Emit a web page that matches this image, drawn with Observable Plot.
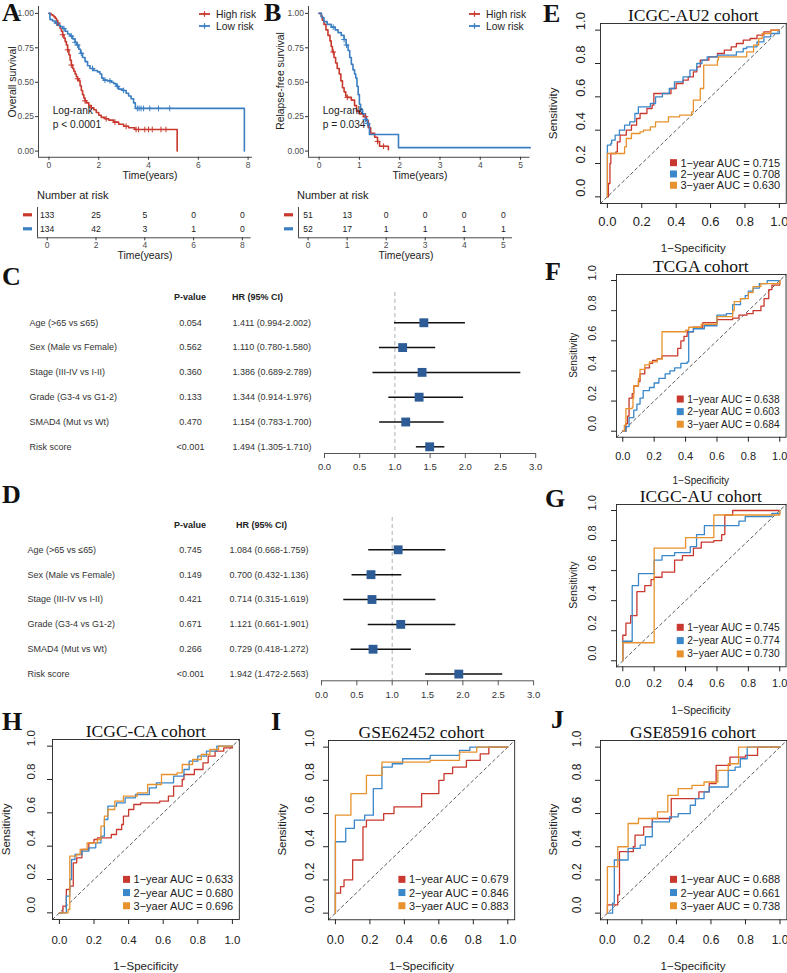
<!DOCTYPE html>
<html><head><meta charset="utf-8">
<script src="https://cdn.jsdelivr.net/npm/d3@7"></script>
<script src="https://cdn.jsdelivr.net/npm/@observablehq/plot@0.6"></script>
<style>
body{margin:0;background:#fff;}
#fig{position:relative;width:787px;height:973px;overflow:hidden;background:#fff;}
.panel{position:absolute;}
.panel svg{max-width:none;overflow:visible;}
#overlay{position:absolute;left:0;top:0;z-index:10;pointer-events:none;}
</style></head><body><div id="fig"></div><script>
// ---------------- data ----------------
const kmGroups = ["High risk", "Low risk"];
const kmColors = ["#c9382d", "#3b7ec2"];
const survTicks = [0, 0.25, 0.5, 0.75, 1];
const osTicks = [0, 2, 4, 6, 8];
const rfsTicks = [0, 1, 2, 3, 4, 5];
// Overall survival (A): [time (years), survival]
const osHigh = [[0,1],[0.08,0.99],[0.15,0.985],[0.2,0.975],[0.25,0.965],[0.3,0.95],[0.35,0.93],[0.4,0.91],[0.45,0.89],[0.5,0.87],[0.55,0.845],[0.6,0.82],[0.65,0.795],[0.7,0.77],[0.75,0.735],[0.8,0.70],[0.85,0.66],[0.9,0.625],[0.95,0.60],[1.0,0.58],[1.05,0.56],[1.1,0.54],[1.15,0.525],[1.2,0.51],[1.25,0.475],[1.3,0.44],[1.35,0.41],[1.4,0.385],[1.45,0.365],[1.5,0.35],[1.6,0.33],[1.7,0.315],[1.8,0.30],[1.9,0.28],[2.0,0.26],[2.1,0.245],[2.25,0.235],[2.4,0.225],[2.6,0.21],[2.8,0.195],[3.0,0.18],[3.2,0.17],[3.45,0.157],[5.15,0.157],[5.15,0]];
const osLow = [[0,1],[0.04,0.955],[0.15,0.945],[0.25,0.93],[0.35,0.915],[0.45,0.905],[0.55,0.89],[0.65,0.87],[0.75,0.85],[0.85,0.835],[0.95,0.815],[1.05,0.79],[1.12,0.77],[1.2,0.74],[1.27,0.71],[1.35,0.68],[1.45,0.65],[1.55,0.62],[1.65,0.60],[1.8,0.585],[1.95,0.575],[2.05,0.56],[2.12,0.53],[2.2,0.515],[2.35,0.51],[2.5,0.50],[2.6,0.49],[2.7,0.47],[2.8,0.45],[2.95,0.44],[3.1,0.42],[3.2,0.40],[3.3,0.38],[3.4,0.35],[3.47,0.31],[7.85,0.31],[7.85,0]];
const osCensorHigh = [0.35,0.55,0.75,0.9,1.15,1.45,1.7,2.3,2.65,3.1,3.5,3.6,3.85,4.0,4.15,4.5,4.7];
const osCensorLow = [0.3,0.6,0.9,1.05,1.15,1.3,1.75,2.25,2.45,2.75,3.0,3.55,3.62,3.7,3.8,4.05,4.4,4.85];
// Relapse-free survival (B)
const rfsHigh = [[0,1],[0.05,0.98],[0.08,0.95],[0.12,0.92],[0.17,0.88],[0.22,0.84],[0.27,0.80],[0.3,0.76],[0.33,0.72],[0.37,0.68],[0.41,0.64],[0.45,0.60],[0.5,0.56],[0.54,0.51],[0.58,0.46],[0.62,0.43],[0.66,0.40],[0.7,0.39],[0.8,0.37],[0.88,0.33],[0.93,0.29],[1.0,0.27],[1.1,0.25],[1.17,0.22],[1.22,0.17],[1.28,0.13],[1.38,0.10],[1.45,0.07],[1.5,0.035],[1.72,0.035],[1.72,0.01]];
const rfsLow = [[0,1],[0.06,0.97],[0.12,0.94],[0.2,0.92],[0.3,0.90],[0.4,0.88],[0.47,0.86],[0.55,0.84],[0.62,0.81],[0.67,0.77],[0.72,0.73],[0.76,0.68],[0.8,0.63],[0.84,0.59],[0.88,0.56],[0.91,0.53],[0.94,0.47],[0.97,0.41],[1.0,0.34],[1.03,0.30],[1.08,0.27],[1.15,0.23],[1.2,0.20],[1.25,0.12],[1.92,0.12],[1.97,0.025],[5.24,0.025]];
const rfsCensorHigh = [0.35,0.7,1.15,1.45,1.6];
const rfsCensorLow = [0.35,0.62,0.68,1.15,1.2];
// Number at risk
const osRisk = [[133,25,5,0,0],[134,42,3,1,0]];
const rfsRisk = [[51,13,0,0,0,0],[52,17,1,1,1,1]];

// Forest plots (C: univariate, D: multivariate)
const forestVars = ["Age (>65 vs \u226465)","Sex (Male vs Female)","Stage (III-IV vs I-II)","Grade (G3-4 vs G1-2)","SMAD4 (Mut vs Wt)","Risk score"];
const uniP = ["0.054","0.562","0.360","0.133","0.470","<0.001"];
const uniHR = [1.411,1.110,1.386,1.344,1.154,1.494];
const uniLo = [0.994,0.780,0.689,0.914,0.783,1.305];
const uniHi = [2.002,1.580,2.789,1.976,1.700,1.710];
const multiP = ["0.745","0.149","0.421","0.671","0.266","<0.001"];
const multiHR = [1.084,0.700,0.714,1.121,0.729,1.942];
const multiLo = [0.668,0.432,0.315,0.661,0.418,1.472];
const multiHi = [1.759,1.136,1.619,1.901,1.272,2.563];
const hrTicks = [0,0.5,1,1.5,2,2.5,3];

// ROC curves: [1-specificity, sensitivity]
const rocYears = ["1\u2212year","2\u2212year","3\u2212yaer"];
const rocColors = ["#c9382e","#3a87c9","#e8922e"];
const rocTicks = [0,0.2,0.4,0.6,0.8,1];
const rocDomain = [-0.04, 1.04];
const aucE = [0.715,0.708,0.630];
const rocE1 = [[0,0],[0.006,0.08],[0.015,0.2],[0.02,0.26],[0.05,0.27],[0.058,0.33],[0.074,0.37],[0.11,0.40],[0.14,0.43],[0.17,0.47],[0.19,0.50],[0.23,0.53],[0.26,0.55],[0.27,0.62],[0.335,0.62],[0.37,0.65],[0.40,0.68],[0.44,0.70],[0.47,0.72],[0.50,0.75],[0.52,0.78],[0.54,0.82],[0.59,0.84],[0.64,0.86],[0.68,0.88],[0.72,0.90],[0.75,0.92],[0.79,0.94],[0.83,0.95],[0.87,0.97],[0.91,0.99],[0.95,1.0],[1,1]];
const rocE2 = [[0,0],[0,0.31],[0.02,0.32],[0.025,0.34],[0.045,0.37],[0.07,0.40],[0.10,0.43],[0.13,0.45],[0.16,0.50],[0.18,0.54],[0.23,0.54],[0.25,0.56],[0.28,0.60],[0.32,0.62],[0.36,0.65],[0.39,0.69],[0.44,0.72],[0.48,0.76],[0.52,0.80],[0.55,0.82],[0.58,0.84],[0.64,0.85],[0.75,0.87],[0.79,0.89],[0.81,0.90],[0.87,0.93],[0.91,0.96],[0.95,0.98],[1,1]];
const rocE3 = [[0,0],[0,0.26],[0.10,0.30],[0.11,0.35],[0.14,0.38],[0.19,0.39],[0.21,0.40],[0.25,0.42],[0.28,0.45],[0.355,0.48],[0.42,0.49],[0.49,0.51],[0.50,0.58],[0.54,0.65],[0.56,0.79],[0.64,0.82],[0.645,0.84],[0.81,0.87],[0.85,0.91],[0.88,0.95],[0.90,0.98],[0.95,1.0],[1,1]];
const aucF = [0.638,0.603,0.684];
const rocF1 = [[0,0],[0.02,0.05],[0.03,0.10],[0.04,0.22],[0.06,0.25],[0.07,0.30],[0.10,0.33],[0.11,0.38],[0.14,0.42],[0.17,0.45],[0.19,0.47],[0.22,0.48],[0.25,0.50],[0.35,0.55],[0.37,0.60],[0.39,0.63],[0.41,0.66],[0.45,0.69],[0.51,0.72],[0.60,0.74],[0.70,0.75],[0.74,0.77],[0.79,0.78],[0.83,0.80],[0.88,0.83],[0.90,0.88],[0.93,0.94],[0.95,0.97],[1,1]];
const rocF2 = [[0,0],[0.02,0.03],[0.04,0.09],[0.07,0.14],[0.09,0.18],[0.11,0.22],[0.13,0.27],[0.17,0.29],[0.20,0.32],[0.23,0.35],[0.27,0.38],[0.30,0.40],[0.33,0.42],[0.37,0.45],[0.41,0.46],[0.42,0.66],[0.45,0.68],[0.52,0.70],[0.60,0.77],[0.66,0.78],[0.70,0.84],[0.75,0.88],[0.78,0.90],[0.80,0.93],[0.83,0.95],[0.87,0.98],[0.92,1.0],[1,1]];
const rocF3 = [[0,0],[0.01,0.04],[0.02,0.15],[0.06,0.16],[0.065,0.22],[0.07,0.30],[0.10,0.35],[0.11,0.41],[0.14,0.44],[0.17,0.46],[0.22,0.48],[0.25,0.66],[0.40,0.67],[0.42,0.69],[0.50,0.71],[0.60,0.76],[0.70,0.80],[0.71,0.86],[0.75,0.88],[0.80,0.92],[0.83,0.96],[0.88,0.98],[1,1]];
const aucG = [0.745,0.774,0.730];
const rocG1 = [[0,0],[0,0.17],[0.02,0.25],[0.05,0.30],[0.09,0.46],[0.14,0.50],[0.18,0.54],[0.20,0.556],[0.25,0.59],[0.33,0.67],[0.38,0.70],[0.45,0.75],[0.50,0.79],[0.58,0.80],[0.63,0.84],[0.65,0.97],[0.70,1.0],[1,1]];
const rocG2 = [[0,0],[0,0.13],[0.06,0.50],[0.10,0.58],[0.20,0.67],[0.25,0.70],[0.33,0.72],[0.43,0.76],[0.47,0.84],[0.52,0.90],[0.74,0.93],[0.78,0.96],[0.95,0.98],[1,1]];
const rocG3 = [[0,0],[0,0.12],[0.20,0.75],[0.40,0.82],[0.58,0.97],[1,1]];
const aucH = [0.633,0.680,0.696];
const rocH1 = [[0,0],[0.02,0.04],[0.04,0.14],[0.06,0.16],[0.08,0.30],[0.10,0.33],[0.13,0.38],[0.17,0.42],[0.20,0.44],[0.22,0.45],[0.30,0.47],[0.33,0.50],[0.36,0.53],[0.37,0.58],[0.40,0.62],[0.43,0.65],[0.47,0.66],[0.58,0.67],[0.63,0.70],[0.66,0.76],[0.71,0.80],[0.72,0.83],[0.78,0.86],[0.83,0.90],[0.86,0.94],[0.90,0.97],[0.95,0.99],[1,1]];
const rocH2 = [[0,0],[0.04,0.10],[0.06,0.20],[0.07,0.32],[0.09,0.35],[0.13,0.37],[0.17,0.39],[0.21,0.42],[0.24,0.46],[0.26,0.56],[0.28,0.64],[0.33,0.66],[0.38,0.69],[0.44,0.71],[0.52,0.75],[0.56,0.78],[0.66,0.82],[0.72,0.86],[0.75,0.91],[0.80,0.94],[0.85,0.97],[0.91,1.0],[1,1]];
const rocH3 = [[0,0],[0.05,0.02],[0.06,0.34],[0.10,0.35],[0.12,0.38],[0.16,0.42],[0.22,0.44],[0.24,0.52],[0.26,0.58],[0.28,0.62],[0.32,0.67],[0.37,0.70],[0.45,0.72],[0.51,0.77],[0.59,0.83],[0.68,0.84],[0.71,0.89],[0.77,0.92],[0.82,0.95],[0.87,0.98],[0.92,1.0],[1,1]];
const aucI = [0.679,0.846,0.883];
const rocI1 = [[0,0],[0,0.12],[0.03,0.16],[0.05,0.20],[0.10,0.32],[0.16,0.52],[0.18,0.56],[0.28,0.60],[0.34,0.64],[0.50,0.72],[0.60,0.80],[0.63,0.84],[0.68,0.88],[0.76,0.92],[0.84,0.96],[0.89,1.0],[1,1]];
const rocI2 = [[0,0],[0,0.43],[0.06,0.51],[0.11,0.56],[0.17,0.59],[0.22,0.75],[0.27,0.88],[0.33,0.90],[0.39,0.93],[0.55,0.95],[0.72,0.98],[0.78,1.0],[1,1]];
const rocI3 = [[0,0],[0,0.59],[0.09,0.72],[0.18,0.83],[0.27,0.91],[0.55,0.92],[0.72,0.97],[0.82,1.0],[1,1]];
const aucJ = [0.688,0.661,0.738];
const rocJ1 = [[0,0],[0,0.05],[0.06,0.11],[0.07,0.37],[0.15,0.40],[0.16,0.47],[0.21,0.52],[0.26,0.57],[0.37,0.69],[0.53,0.73],[0.59,0.78],[0.63,0.89],[0.71,0.94],[0.80,0.95],[0.87,1.0],[1,1]];
const rocJ2 = [[0,0],[0.03,0.06],[0.04,0.32],[0.12,0.39],[0.19,0.41],[0.22,0.46],[0.26,0.55],[0.36,0.58],[0.41,0.60],[0.48,0.65],[0.51,0.69],[0.56,0.73],[0.59,0.76],[0.70,0.86],[0.74,0.88],[0.77,0.93],[0.81,1.0],[1,1]];
const rocJ3 = [[0,0],[0,0.28],[0.06,0.40],[0.12,0.54],[0.18,0.57],[0.29,0.61],[0.35,0.71],[0.41,0.75],[0.49,0.77],[0.56,0.79],[0.64,0.86],[0.70,0.90],[0.76,1.0],[1,1]];

// ---------------- helpers ----------------
const SANS = "'Liberation Sans', Arial, Helvetica, sans-serif";
const SERIF = "'Liberation Serif', 'Times New Roman', Times, serif";
const fig = document.getElementById("fig");
const ov = d3.select(fig).append("svg").attr("id", "overlay").attr("width", 787).attr("height", 973);

function place(node, left, top) {
  const div = document.createElement("div");
  div.className = "panel";
  div.style.left = left + "px";
  div.style.top = top + "px";
  div.appendChild(node);
  fig.appendChild(div);
}
function txt(x, y, s, o = {}) {
  const t = ov.append("text").attr("x", x).attr("y", y).text(s)
    .attr("font-family", o.family || SANS).attr("font-size", o.size || 10)
    .attr("text-anchor", o.anchor || "start").attr("fill", o.fill || "#222")
    .attr("dominant-baseline", o.baseline || "central");
  if (o.weight) t.attr("font-weight", o.weight);
  if (o.rotate) t.attr("transform", `rotate(${o.rotate},${x},${y})`);
  return t;
}
function letter(x, y, s) { txt(x, y, s, {family: SERIF, size: 26, weight: "bold", baseline: "alphabetic", fill: "#111"}); }
function stepAt(curve, t) { let v = curve[0][1]; for (const [x, y] of curve) if (x <= t) v = y; return v; }

// ---------------- KM panels ----------------
function kmPanel({fl, fr, ft, fb, xDomain, xTicks, curves, censors}) {
  const mL = 36, mR = 6, mT = 4, mB = 18;
  const yDomain = [-0.045, 1.05];
  const marks = [
    Plot.ruleX([xDomain[0]], {stroke: "#333", strokeWidth: 0.9}),
    Plot.ruleY([yDomain[0]], {stroke: "#333", strokeWidth: 0.9}),
    Plot.axisX({ticks: xTicks, tickFormat: "d", tickSize: 3, tickPadding: 2, stroke: "#333", fill: "#4d4d4d", label: null}),
    Plot.axisY({ticks: survTicks, tickFormat: ".2f", tickSize: 3, tickPadding: 1.5, stroke: "#333", fill: "#4d4d4d", label: null})
  ];
  curves.forEach((c, k) => marks.push(Plot.line(c, {x: d => d[0], y: d => d[1], curve: "step-after", stroke: kmColors[k], strokeWidth: 1.6})));
  censors.forEach((ts, k) => marks.push(Plot.dot(ts, {x: t => t, y: t => stepAt(curves[k], t), symbol: "plus", r: 2, stroke: kmColors[k], strokeWidth: 1})));
  const p = Plot.plot({
    width: mL + fr - fl + mR, height: mT + fb - ft + mB,
    marginLeft: mL, marginRight: mR, marginTop: mT, marginBottom: mB,
    x: {domain: xDomain, label: null}, y: {domain: yDomain, label: null},
    style: {fontFamily: SANS, fontSize: "8.5px", background: "transparent", color: "#333"},
    marks
  });
  place(p, fl - mL, ft - mT);
}
kmPanel({fl: 38.3, fr: 252.4, ft: 6.4, fb: 157.2, xDomain: [-0.42, 8.18], xTicks: osTicks, curves: [osHigh, osLow], censors: [osCensorHigh, osCensorLow]});
kmPanel({fl: 307.7, fr: 529.3, ft: 6.4, fb: 157.2, xDomain: [-0.263, 5.236], xTicks: rfsTicks, curves: [rfsHigh, rfsLow], censors: [rfsCensorHigh, rfsCensorLow]});

function kmLegend(lx, y0) {
  kmGroups.forEach((g, k) => {
    const y = y0 + k * 12;
    ov.append("line").attr("x1", lx).attr("x2", lx + 11).attr("y1", y).attr("y2", y).attr("stroke", kmColors[k]).attr("stroke-width", 1.8);
    ov.append("line").attr("x1", lx + 5.5).attr("x2", lx + 5.5).attr("y1", y - 2.8).attr("y2", y + 2.8).attr("stroke", kmColors[k]).attr("stroke-width", 1.2);
    txt(lx + 17, y, g, {size: 10.3, fill: "#222"});
  });
}
kmLegend(199, 14);
kmLegend(469, 14);
txt(12, 82, "Overall survival", {size: 10.4, anchor: "middle", rotate: -90});
txt(280, 81, "Relapse-free survival", {size: 10.4, anchor: "middle", rotate: -90});
txt(150, 175, "Time(years)", {size: 10.4, anchor: "middle"});
txt(420, 175, "Time(years)", {size: 10.4, anchor: "middle"});
txt(52.7, 110, "Log-rank", {size: 10.2});
txt(52.7, 124, "p < 0.0001", {size: 10.2});
txt(322.7, 110, "Log-rank", {size: 10.2});
txt(322.7, 124, "p = 0.034", {size: 10.2});

// ---------------- risk tables ----------------
function riskTable({fl, fr, xDomain, ticks, risk}) {
  const ft = 206.7, fb = 237, mL = 20, mR = 8, mT = 2, mB = 14;
  const yDomain = [-0.52, 1.643];
  const ppu = (fr - fl) / (xDomain[1] - xDomain[0]);
  const rows = kmGroups.flatMap((g, k) => ticks.map((t, j) => ({t, k, n: risk[k][j]})));
  const p = Plot.plot({
    width: mL + fr - fl + mR, height: mT + fb - ft + mB,
    marginLeft: mL, marginRight: mR, marginTop: mT, marginBottom: mB,
    x: {domain: xDomain, label: null}, y: {domain: yDomain, reverse: true, axis: null, label: null},
    style: {fontFamily: SANS, fontSize: "8.5px", background: "transparent", color: "#333"},
    marks: [
      Plot.ruleX([xDomain[0]], {stroke: "#333", strokeWidth: 0.9}),
      Plot.ruleY([yDomain[1]], {stroke: "#333", strokeWidth: 0.9}),
      Plot.axisX({ticks, tickFormat: "d", tickSize: 3, tickPadding: 1, stroke: "#333", fill: "#4d4d4d", label: null}),
      Plot.text(rows, {x: "t", y: "k", text: "n", fill: "#222", fontSize: 8.6}),
      Plot.ruleY(kmGroups, {y: (d, i) => i, x1: xDomain[0] - 14 / ppu, x2: xDomain[0] - 5 / ppu, stroke: (d, i) => kmColors[i], strokeWidth: 3.2})
    ]
  });
  place(p, fl - mL, ft - mT);
}
riskTable({fl: 37, fr: 250.7, xDomain: [-0.397, 8.36], ticks: osTicks, risk: osRisk});
riskTable({fl: 297.7, fr: 511.7, xDomain: [-0.246, 5.236], ticks: rfsTicks, risk: rfsRisk});
txt(37, 195, "Number at risk", {size: 11});
txt(297, 195, "Number at risk", {size: 11});
txt(145, 255, "Time(years)", {size: 10.4, anchor: "middle"});
txt(406, 255, "Time(years)", {size: 10.4, anchor: "middle"});

// ---------------- forest plots ----------------
function forestPanel({fl, fr, ft, fb, yTop, labelX, pX, hrX, hdrY, hdrHRX, P, HR, LO, HI}) {
  const mL = fl, mR = 545 - fr, mT = 2, mB = 22;
  const yDomain = [5.27, yTop];
  const rows = forestVars.map((v, i) => ({i, v, p: P[i], hr: HR[i], lo: LO[i], hi: HI[i],
    txt: `${HR[i].toFixed(3)} (${LO[i].toFixed(3)}-${HI[i].toFixed(3)})`}));
  const p = Plot.plot({
    width: 545, height: mT + fb - ft + mB,
    marginLeft: mL, marginRight: mR, marginTop: mT, marginBottom: mB,
    x: {domain: [d3.min(hrTicks), d3.max(hrTicks)], label: null}, y: {domain: yDomain, axis: null, label: null},
    style: {fontFamily: SANS, fontSize: "9px", background: "transparent", color: "#333"},
    marks: [
      Plot.ruleX([1], {stroke: "#b0b0b0", strokeDasharray: "4,3", strokeWidth: 1}),
      Plot.ruleY(rows, {y: "i", x1: "lo", x2: "hi", stroke: "#111", strokeWidth: 1.5}),
      Plot.dot(rows, {x: "hr", y: "i", symbol: "square", r: 5, fill: "#2c5b95"}),
      Plot.ruleY([yDomain[0]], {x1: d3.min(hrTicks), x2: d3.max(hrTicks), stroke: "#555", strokeWidth: 1}),
      Plot.axisX({ticks: hrTicks, tickFormat: ".1f", tickSize: 5, tickPadding: 5, stroke: "#555", fill: "#333", fontSize: 9.5, label: null}),
      Plot.text(rows, {y: "i", text: "v", frameAnchor: "left", dx: labelX - fl, textAnchor: "start", fill: "#333"}),
      Plot.text(rows, {y: "i", text: "p", frameAnchor: "left", dx: pX - fl, textAnchor: "middle", fill: "#333"}),
      Plot.text(rows, {y: "i", text: "txt", frameAnchor: "left", dx: hrX - fl, textAnchor: "start", fill: "#333"})
    ]
  });
  place(p, 0, ft - mT);
  txt(pX, hdrY, "P-value", {size: 9, weight: "bold", anchor: "middle"});
  txt(hdrHRX, hdrY, "HR (95% CI)", {size: 9, weight: "bold"});
}
forestPanel({fl: 324, fr: 535.2, ft: 291.7, fb: 452.7, yTop: -1.22, labelX: 29, pX: 190, hrX: 232, hdrY: 297, hdrHRX: 232, P: uniP, HR: uniHR, LO: uniLo, HI: uniHi});
forestPanel({fl: 321, fr: 533.1, ft: 516.7, fb: 680, yTop: -1.30, labelX: 27, pX: 190, hrX: 229, hdrY: 525, hdrHRX: 236, P: multiP, HR: multiHR, LO: multiLo, HI: multiHi});

// ---------------- ROC panels ----------------
function rocPanel(c) {
  const sx = c.x1 - c.x0, sy = c.y0 - c.y1;
  const bl = c.x0 - 0.04 * sx, br = c.x1 + 0.04 * sx, bt = c.y1 - 0.04 * sy, bb = c.y0 + 0.04 * sy;
  const mL = 34, mR = 3, mT = 3, mB = 34;
  const pad = c.xtl - 5 - 0.36 * c.tick;
  const marks = [
    Plot.line(rocDomain, {x: d => d, y: d => d, stroke: "#333", strokeDasharray: "3,3", strokeWidth: 0.8})
  ];
  c.curves.forEach((cv, k) => marks.push(Plot.line(cv, {x: d => d[0], y: d => d[1], curve: "step-after", stroke: rocColors[k], strokeWidth: 1.3})));
  marks.push(
    Plot.frame({stroke: "#222", strokeWidth: 0.9}),
    Plot.axisX({ticks: rocTicks, tickFormat: ".1f", tickSize: 5, tickPadding: pad, stroke: "#222", fill: "#222", label: null}),
    Plot.axisY({ticks: rocTicks, tickSize: 5, stroke: "#222", fill: "none", label: null}),
    Plot.text(rocTicks, {y: d => d, text: d => d3.format(".1f")(d), frameAnchor: "left", dx: c.ytl, rotate: -90, fill: "#222"})
  );
  const p = Plot.plot({
    width: mL + br - bl + mR, height: mT + bb - bt + mB,
    marginLeft: mL, marginRight: mR, marginTop: mT, marginBottom: mB,
    x: {domain: rocDomain, label: null}, y: {domain: rocDomain, label: null},
    style: {fontFamily: SANS, fontSize: c.tick + "px", background: "transparent", color: "#222"},
    marks
  });
  place(p, bl - mL, bt - mT);
  txt((bl + br) / 2, bt - 8, c.title, {family: SERIF, size: 17.5, anchor: "middle", fill: "#111"});
  txt(bl + c.ylab, (bt + bb) / 2, "Sensitivity", {size: c.lab, anchor: "middle", rotate: -90});
  txt((bl + br) / 2, bb + c.xlab, "1\u2212Specificity", {size: c.lab, anchor: "middle"});
  c.auc.forEach((a, k) => {
    const y = bb + c.leg0 + k * c.legStep;
    const t = txt(br - 6, y, `${rocYears[k]} AUC = ${a.toFixed(3)}`, {size: c.leg, anchor: "end", fill: "#222"});
    const len = t.node().getComputedTextLength();
    ov.append("rect").attr("x", br - 6 - len - 10.5).attr("y", y - 3.5).attr("width", 7).attr("height", 7).attr("fill", rocColors[k]);
  });
}
rocPanel({title: "ICGC-AU2 cohort", x0: 607.3, x1: 779.3, y1: 30, y0: 196.7, curves: [rocE1, rocE2, rocE3], auc: aucE, tick: 13, lab: 11.5, leg: 11, leg0: -40.7, legStep: 11.3, xtl: 18.3, ytl: -20, ylab: -47, xlab: 44.6});
rocPanel({title: "TCGA cohort", x0: 622.3, x1: 779.3, y1: 280, y0: 430.7, curves: [rocF1, rocF2, rocF3], auc: aucF, tick: 11, lab: 10, leg: 10.2, leg0: -37.7, legStep: 12.6, xtl: 19, ytl: -24, ylab: -43, xlab: 43.3});
rocPanel({title: "ICGC-AU cohort", x0: 622.3, x1: 779.3, y1: 510, y0: 660.3, curves: [rocG1, rocG2, rocG3], auc: aucG, tick: 11, lab: 10.5, leg: 10.2, leg0: -39, legStep: 13.3, xtl: 16.5, ytl: -24, ylab: -43, xlab: 43.7});
rocPanel({title: "ICGC-CA cohort", x0: 59.3, x1: 232.3, y1: 746, y0: 912.7, curves: [rocH1, rocH2, rocH3], auc: aucH, tick: 11.5, lab: 11.5, leg: 11, leg0: -40, legStep: 13.2, xtl: 20, ytl: -21, ylab: -46, xlab: 47});
rocPanel({title: "GSE62452 cohort", x0: 335.3, x1: 507.7, y1: 746.7, y0: 912.7, curves: [rocI1, rocI2, rocI3], auc: aucI, tick: 12.5, lab: 11.5, leg: 11, leg0: -40, legStep: 13.2, xtl: 20, ytl: -19, ylab: -46, xlab: 47});
rocPanel({title: "GSE85916 cohort", x0: 606.7, x1: 779.3, y1: 746.7, y0: 912.7, curves: [rocJ1, rocJ2, rocJ3], auc: aucJ, tick: 12, lab: 11.5, leg: 11, leg0: -40, legStep: 13.2, xtl: 20, ytl: -23, ylab: -47, xlab: 47});

// ---------------- panel letters ----------------
letter(2, 21, "A"); letter(264, 21, "B"); letter(2, 285, "C"); letter(2, 503, "D");
letter(543, 22, "E"); letter(545, 280, "F"); letter(545, 507, "G");
letter(2, 730, "H"); letter(271, 730, "I"); letter(551, 728, "J");
</script></body></html>
